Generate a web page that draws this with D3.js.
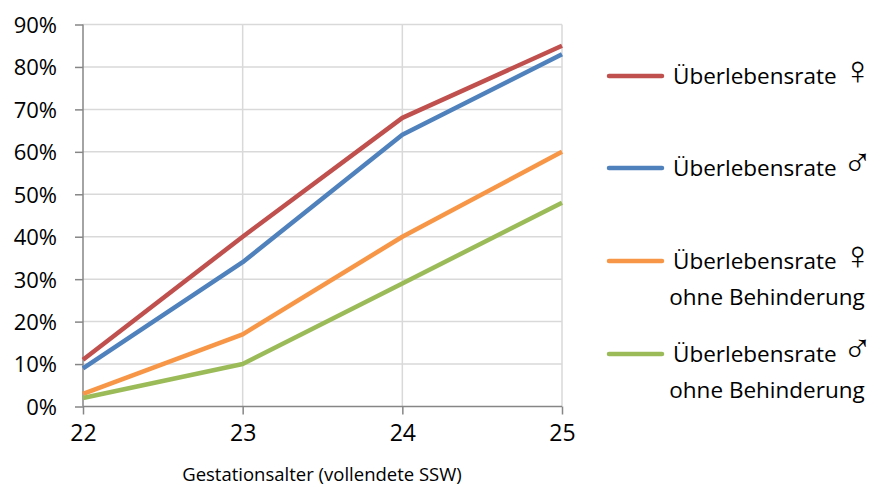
<!DOCTYPE html>
<html>
<head>
<meta charset="utf-8">
<script src="https://cdn.jsdelivr.net/npm/d3@7"></script>
<style>
  body { margin: 0; background: #fff; }
  svg { font-family: "Open Sans", sans-serif; }
</style>
</head>
<body>
<svg id="chart" width="871" height="486"></svg>
<script>
// Data
const weeks = [22, 23, 24, 25];
const yTicks = [0, 0.1, 0.2, 0.3, 0.4, 0.5, 0.6, 0.7, 0.8, 0.9];
const femaleSurvival = [0.11, 0.40, 0.68, 0.85];
const maleSurvival = [0.09, 0.34, 0.64, 0.83];
const femaleNoDisability = [0.03, 0.17, 0.40, 0.60];
const maleNoDisability = [0.02, 0.10, 0.29, 0.48];
const seriesNames = [
    ["Überlebensrate ♀"],
    ["Überlebensrate ♂"],
    ["Überlebensrate ♀", "ohne Behinderung"],
    ["Überlebensrate ♂", "ohne Behinderung"]
];
const xTitle = "Gestationsalter (vollendete SSW)";

const series = [
    { name: seriesNames[0], values: femaleSurvival, color: "#C0504D" },
    { name: seriesNames[1], values: maleSurvival, color: "#4F81BD" },
    { name: seriesNames[2], values: femaleNoDisability, color: "#F79646" },
    { name: seriesNames[3], values: maleNoDisability, color: "#9BBB59" }
];

const svg = d3.select("#chart");

// Plot area bounds
const plot = { left: 83, right: 562, top: 24.5, bottom: 406.5 };

const x = d3.scaleLinear().domain([22, 25]).range([plot.left, plot.right]);
const y = d3.scaleLinear().domain([0, 0.9]).range([plot.bottom, plot.top]);

// Horizontal gridlines
svg.append("g")
    .selectAll("line")
    .data(yTicks.slice(1))
    .enter()
    .append("line")
    .attr("x1", plot.left)
    .attr("x2", plot.right)
    .attr("y1", (d) => y(d))
    .attr("y2", (d) => y(d))
    .attr("stroke", "#d9d9d9")
    .attr("stroke-width", 1.5);

// Vertical gridlines
svg.append("g")
    .selectAll("line")
    .data(weeks.slice(1))
    .enter()
    .append("line")
    .attr("x1", (d) => x(d))
    .attr("x2", (d) => x(d))
    .attr("y1", plot.top)
    .attr("y2", plot.bottom)
    .attr("stroke", "#d9d9d9")
    .attr("stroke-width", 1.5);

// Y axis
const yAxis = svg.append("g")
    .attr("transform", "translate(" + plot.left + ",0)")
    .call(d3.axisLeft(y).tickValues(yTicks).tickFormat(d3.format(".0%")).tickSize(8).tickPadding(18));
yAxis.selectAll("line, path").attr("stroke", "#868686").attr("stroke-width", 1.5);
yAxis.select("path").attr("d", "M0," + plot.bottom + "V" + plot.top);
yAxis.selectAll("text")
    .attr("font-size", "22px")
    .attr("font-family", "Open Sans, sans-serif")
    .attr("fill", "#000")
    .attr("dy", "0.36em");

// X axis
const xAxis = svg.append("g")
    .attr("transform", "translate(0," + plot.bottom + ")")
    .call(d3.axisBottom(x).tickValues(weeks).tickFormat(d3.format("d")).tickSize(8).tickPadding(10));
xAxis.selectAll("line, path").attr("stroke", "#868686").attr("stroke-width", 1.5);
xAxis.select("path").attr("d", "M" + plot.left + ",0H" + plot.right);
xAxis.selectAll("text")
    .attr("font-size", "23px")
    .attr("font-family", "Open Sans, sans-serif")
    .attr("fill", "#000");

// X axis title
svg.append("text")
    .attr("x", 322)
    .attr("y", 481)
    .attr("text-anchor", "middle")
    .attr("font-size", "18.5px")
    .attr("fill", "#000")
    .text(xTitle);

// Lines
const line = d3.line()
    .x((d, i) => x(weeks[i]))
    .y((d) => y(d));

svg.append("g")
    .selectAll("path")
    .data(series)
    .enter()
    .append("path")
    .attr("d", (d) => line(d.values))
    .attr("fill", "none")
    .attr("stroke", (d) => d.color)
    .attr("stroke-width", 4.5)
    .attr("stroke-linejoin", "round");

// Legend
const legendY = [76, 168, 261, 354];
const legend = svg.append("g")
    .selectAll("g")
    .data(series)
    .enter()
    .append("g")
    .attr("transform", (d, i) => "translate(0," + legendY[i] + ")");

legend.append("line")
    .attr("x1", 609)
    .attr("x2", 662)
    .attr("stroke", (d) => d.color)
    .attr("stroke-width", 4.5)
    .attr("stroke-linecap", "round");

const legendLines = legend.append("g")
    .selectAll("text")
    .data((d) => d.name)
    .enter()
    .append("text")
    .attr("x", (d, i) => (i === 0 ? 673 : 767))
    .attr("y", (d, i) => i * 36)
    .attr("dy", "0.36em")
    .attr("text-anchor", (d, i) => (i === 0 ? "start" : "middle"))
    .attr("font-size", "22.5px")
    .attr("fill", "#000");

// Gender symbols drawn with a font that carries them
legendLines.selectAll("tspan")
    .data((d) => d.split(/([♀♂])/).filter((s) => s.length))
    .enter()
    .append("tspan")
    .attr("font-family", (d) => (/[♀♂]/.test(d) ? "DejaVu Sans" : null))
    .attr("font-weight", (d) => (/[♀♂]/.test(d) ? 200 : null))
    .attr("font-size", (d) => (/[♀♂]/.test(d) ? "40px" : null))
    .text((d) => d);
</script>
</body>
</html>
